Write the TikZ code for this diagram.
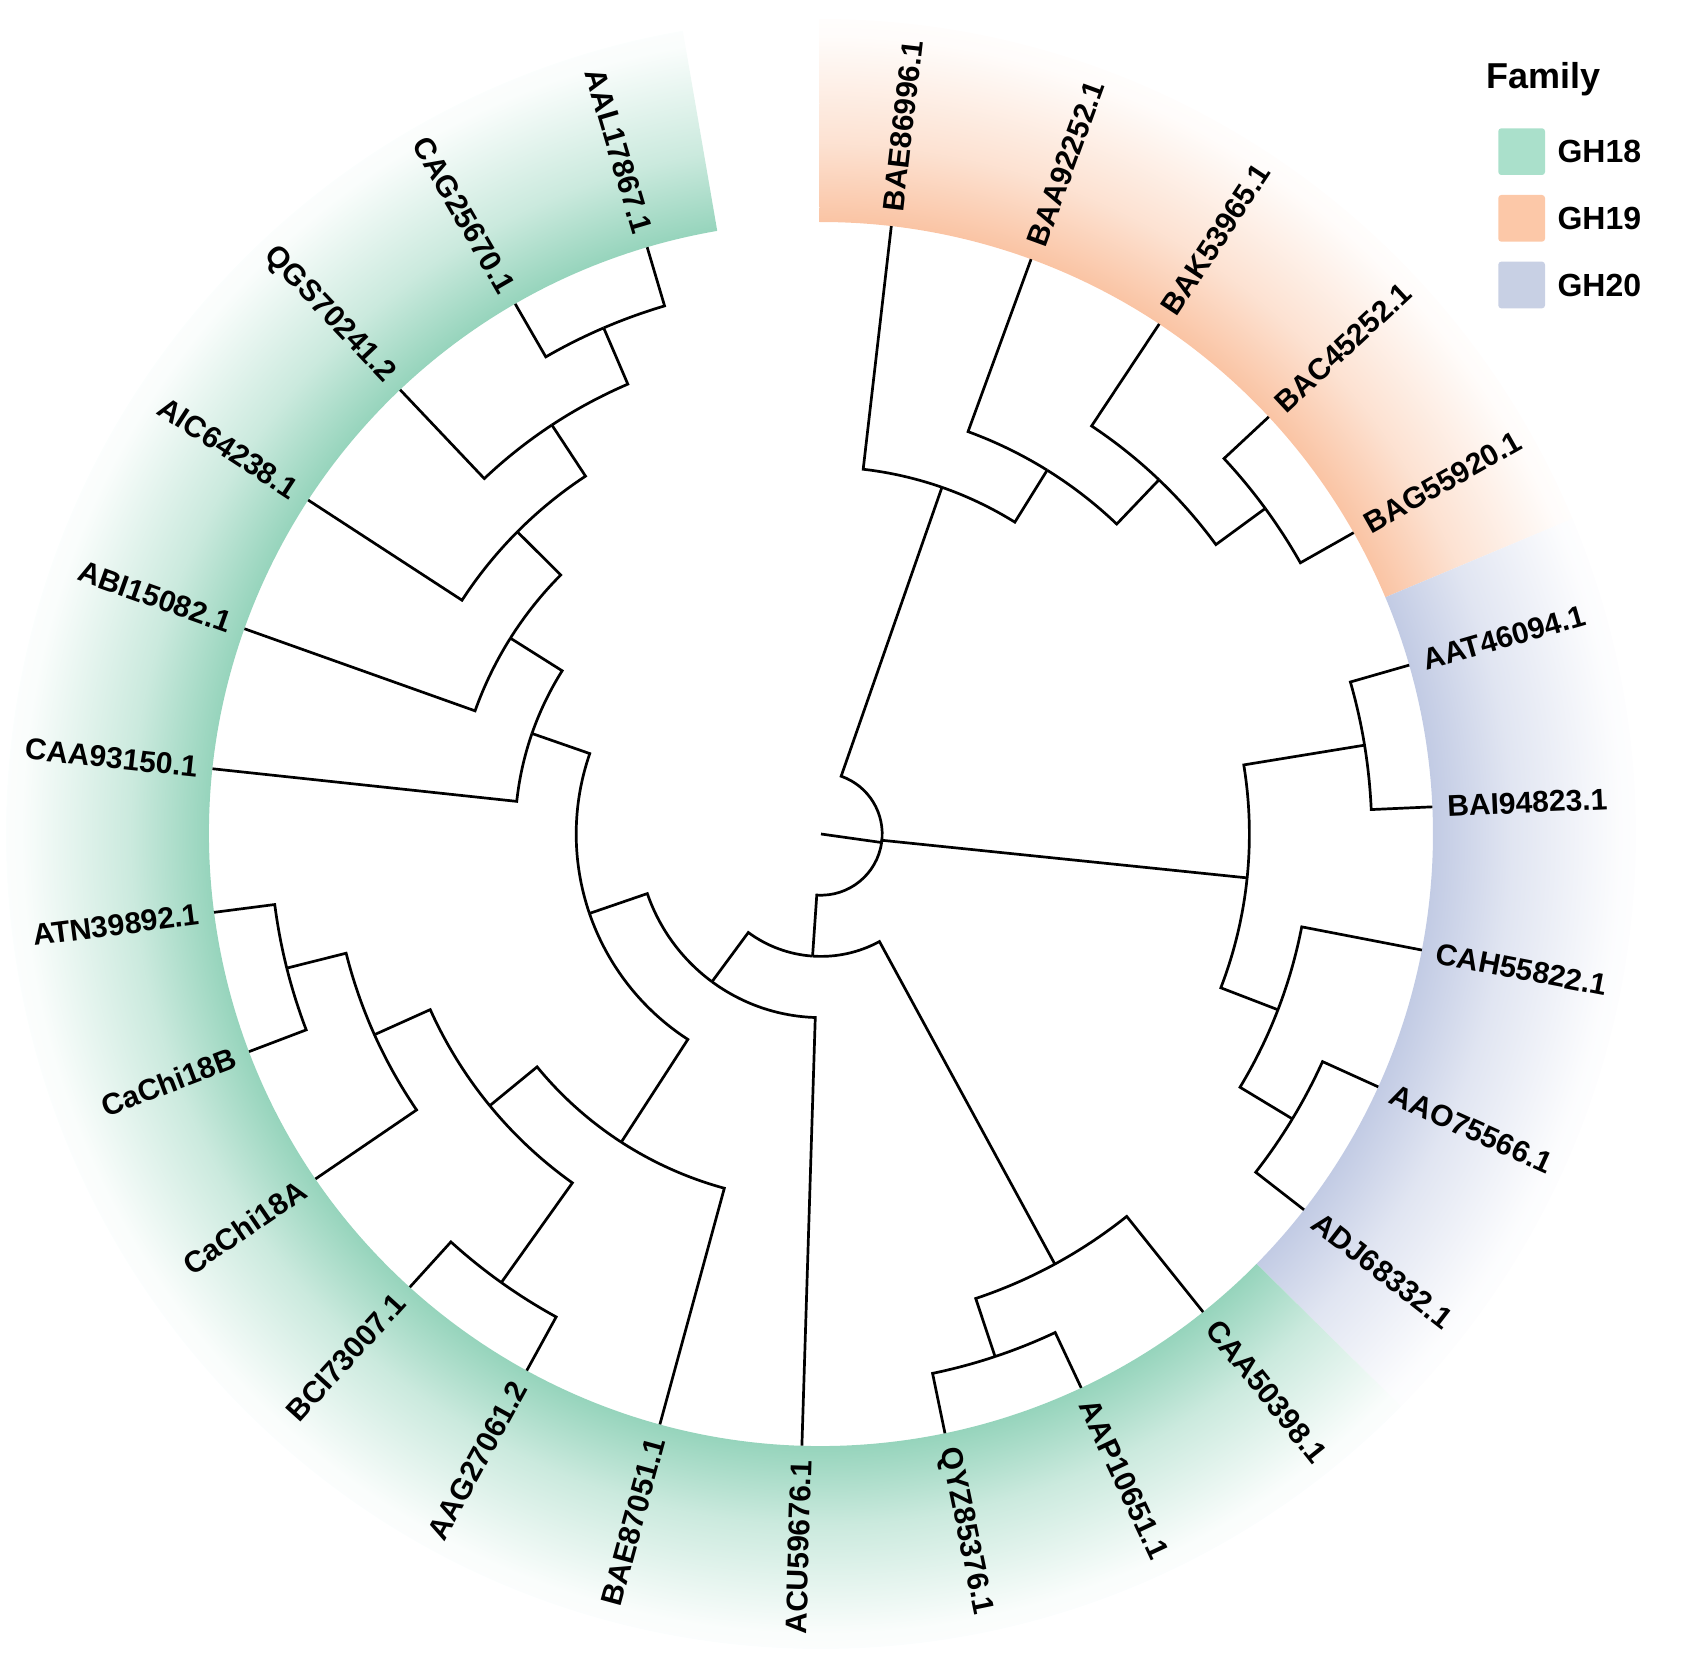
\documentclass[tikz,border=0pt]{standalone}
\usepackage{fontspec}
\setmainfont{Liberation Sans}
\definecolor{cG}{RGB}{150,212,188}
\definecolor{cO}{RGB}{250,196,164}
\definecolor{cB}{RGB}{194,203,228}
\colorlet{cGm}{cG!50!white}
\colorlet{cOm}{cO!50!white}
\colorlet{cBm}{cB!50!white}
\colorlet{cGe}{cG!5!white}
\colorlet{cOe}{cO!5!white}
\colorlet{cBe}{cB!5!white}
\definecolor{lG}{RGB}{170,224,203}
\definecolor{lO}{RGB}{252,200,168}
\definecolor{lB}{RGB}{200,208,228}
% central 50bp square of the shading is fitted to the circle of radius 850: 25bp = 850
\pgfdeclareradialshading{fadeG}{\pgfpoint{0bp}{0bp}}{color(0bp)=(cG); color(18bp)=(cG); color(20.3bp)=(cGm); color(23.5bp)=(cGe); color(25bp)=(white); color(50bp)=(white)}
\pgfdeclareradialshading{fadeO}{\pgfpoint{0bp}{0bp}}{color(0bp)=(cO); color(18bp)=(cO); color(20.3bp)=(cOm); color(23.5bp)=(cOe); color(25bp)=(white); color(50bp)=(white)}
\pgfdeclareradialshading{fadeB}{\pgfpoint{0bp}{0bp}}{color(0bp)=(cB); color(18bp)=(cB); color(20.3bp)=(cBm); color(23.5bp)=(cBe); color(25bp)=(white); color(50bp)=(white)}
\newcommand\edge[5]{\draw[tree] (#1) arc[start angle=#2, end angle=#4, radius=#3] -- (#5);}
\newcommand\band[3]{\begin{scope}
  \clip (#1:612) -- (#1:815) arc[start angle=#1, end angle=#2, radius=815] -- (#2:612) arc[start angle=#2, end angle=#1, radius=612] -- cycle;
  \shade[shading=#3] (0,0) circle (850);
\end{scope}}
\begin{document}
\begin{tikzpicture}[x=1pt,y=1pt,
  tree/.style={line width=2.7pt, line join=miter, black},
  lab/.style={font=\fontsize{30}{36}\selectfont\bfseries, inner sep=0pt, outer sep=0pt},
  legtxt/.style={font=\fontsize{32}{38}\selectfont\bfseries, inner sep=0pt, anchor=west},
  key/.style={minimum size=46.7pt, inner sep=0pt, rounded corners=3pt}]
\useasboundingbox (-821,-820) rectangle (873,834);
% bands
\band{90.138}{22.758}{fadeO}
\band{22.758}{-44.622}{fadeB}
\band{-44.622}{-260.238}{fadeG}
% coordinates
\coordinate (O) at (0,0);
\coordinate (root) at (-8:61.2);
\coordinate (n19a) at (70.766:367.2);
\coordinate (n19b) at (58.133:428.4);
\coordinate (n19c) at (46.341:489.6);
\coordinate (n19d) at (36.234:550.8);
\coordinate (n20a) at (-5.879:428.4);
\coordinate (n20b) at (9.282:550.8);
\coordinate (n20c) at (-21.039:489.6);
\coordinate (n20d) at (-31.146:550.8);
\coordinate (nL2) at (-93.946:122.4);
\coordinate (nXa) at (-61.467:489.6);
\coordinate (nXb) at (-71.574:550.8);
\coordinate (nN3) at (-126.426:183.6);
\coordinate (nN4) at (-161.064:244.8);
\coordinate (nLe) at (-122.949:367.2);
\coordinate (nLd) at (-140.639:428.4);
\coordinate (nLc) at (-125.478:550.8);
\coordinate (nLb) at (-155.799:489.6);
\coordinate (nLa) at (-165.906:550.8);
\coordinate (nUa) at (-199.178:306);
\coordinate (nUb) at (-212.234:367.2);
\coordinate (nUc) at (-224.864:428.4);
\coordinate (nUd) at (-236.655:489.6);
\coordinate (nUe) at (-246.762:550.8);
\coordinate (l0) at (83.4:612);
\coordinate (l1) at (69.924:612);
\coordinate (l2) at (56.448:612);
\coordinate (l3) at (42.972:612);
\coordinate (l4) at (29.496:612);
\coordinate (l5) at (16.02:612);
\coordinate (l6) at (2.544:612);
\coordinate (l7) at (-10.932:612);
\coordinate (l8) at (-24.408:612);
\coordinate (l9) at (-37.884:612);
\coordinate (l10) at (-51.36:612);
\coordinate (l11) at (-64.836:612);
\coordinate (l12) at (-78.312:612);
\coordinate (l13) at (-91.788:612);
\coordinate (l14) at (-105.264:612);
\coordinate (l15) at (-118.74:612);
\coordinate (l16) at (-132.216:612);
\coordinate (l17) at (-145.692:612);
\coordinate (l18) at (-159.168:612);
\coordinate (l19) at (-172.644:612);
\coordinate (l20) at (-186.12:612);
\coordinate (l21) at (-199.596:612);
\coordinate (l22) at (-213.072:612);
\coordinate (l23) at (-226.548:612);
\coordinate (l24) at (-240.024:612);
\coordinate (l25) at (-253.5:612);
% edges
\draw[tree] (O) -- (root);
\edge{root}{-8}{61.2}{70.766}{n19a}
\edge{root}{-8}{61.2}{-5.879}{n20a}
\edge{root}{-8}{61.2}{-93.946}{nL2}
\edge{n19a}{70.766}{367.2}{83.4}{l0}
\edge{n19a}{70.766}{367.2}{58.133}{n19b}
\edge{n19b}{58.133}{428.4}{69.924}{l1}
\edge{n19b}{58.133}{428.4}{46.341}{n19c}
\edge{n19c}{46.341}{489.6}{56.448}{l2}
\edge{n19c}{46.341}{489.6}{36.234}{n19d}
\edge{n19d}{36.234}{550.8}{42.972}{l3}
\edge{n19d}{36.234}{550.8}{29.496}{l4}
\edge{n20a}{-5.879}{428.4}{9.282}{n20b}
\edge{n20a}{-5.879}{428.4}{-21.039}{n20c}
\edge{n20b}{9.282}{550.8}{16.02}{l5}
\edge{n20b}{9.282}{550.8}{2.544}{l6}
\edge{n20c}{-21.039}{489.6}{-10.932}{l7}
\edge{n20c}{-21.039}{489.6}{-31.146}{n20d}
\edge{n20d}{-31.146}{550.8}{-24.408}{l8}
\edge{n20d}{-31.146}{550.8}{-37.884}{l9}
\edge{nL2}{-93.946}{122.4}{-126.426}{nN3}
\edge{nL2}{-93.946}{122.4}{-61.467}{nXa}
\edge{nXa}{-61.467}{489.6}{-51.36}{l10}
\edge{nXa}{-61.467}{489.6}{-71.574}{nXb}
\edge{nXb}{-71.574}{550.8}{-64.836}{l11}
\edge{nXb}{-71.574}{550.8}{-78.312}{l12}
\edge{nN3}{-126.426}{183.6}{-91.788}{l13}
\edge{nN3}{-126.426}{183.6}{-161.064}{nN4}
\edge{nN4}{-161.064}{244.8}{-122.949}{nLe}
\edge{nN4}{-161.064}{244.8}{-199.178}{nUa}
\edge{nLe}{-122.949}{367.2}{-105.264}{l14}
\edge{nLe}{-122.949}{367.2}{-140.639}{nLd}
\edge{nLd}{-140.639}{428.4}{-125.478}{nLc}
\edge{nLd}{-140.639}{428.4}{-155.799}{nLb}
\edge{nLc}{-125.478}{550.8}{-118.74}{l15}
\edge{nLc}{-125.478}{550.8}{-132.216}{l16}
\edge{nLb}{-155.799}{489.6}{-145.692}{l17}
\edge{nLb}{-155.799}{489.6}{-165.906}{nLa}
\edge{nLa}{-165.906}{550.8}{-159.168}{l18}
\edge{nLa}{-165.906}{550.8}{-172.644}{l19}
\edge{nUa}{-199.178}{306}{-186.12}{l20}
\edge{nUa}{-199.178}{306}{-212.234}{nUb}
\edge{nUb}{-212.234}{367.2}{-199.596}{l21}
\edge{nUb}{-212.234}{367.2}{-224.864}{nUc}
\edge{nUc}{-224.864}{428.4}{-213.072}{l22}
\edge{nUc}{-224.864}{428.4}{-236.655}{nUd}
\edge{nUd}{-236.655}{489.6}{-226.548}{l23}
\edge{nUd}{-236.655}{489.6}{-246.762}{nUe}
\edge{nUe}{-246.762}{550.8}{-240.024}{l24}
\edge{nUe}{-246.762}{550.8}{-253.5}{l25}
% labels, right side
\node[lab, anchor=west, rotate=83.4] (t0) at (83.4:627) {BAE86996.1};
\node[lab, anchor=west, rotate=69.924] (t1) at (69.924:627) {BAA92252.1};
\node[lab, anchor=west, rotate=56.448] (t2) at (56.448:627) {BAK53965.1};
\node[lab, anchor=west, rotate=42.972] (t3) at (42.972:627) {BAC45252.1};
\node[lab, anchor=west, rotate=29.496] (t4) at (29.496:627) {BAG55920.1};
\node[lab, anchor=west, rotate=16.02] (t5) at (16.02:627) {AAT46094.1};
\node[lab, anchor=west, rotate=2.544] (t6) at (2.544:627) {BAI94823.1};
\node[lab, anchor=west, rotate=-10.932] (t7) at (-10.932:627) {CAH55822.1};
\node[lab, anchor=west, rotate=-24.408] (t8) at (-24.408:627) {AAO75566.1};
\node[lab, anchor=west, rotate=-37.884] (t9) at (-37.884:627) {ADJ68332.1};
\node[lab, anchor=west, rotate=-51.36] (t10) at (-51.36:627) {CAA50398.1};
\node[lab, anchor=west, rotate=-64.836] (t11) at (-64.836:627) {AAP10651.1};
\node[lab, anchor=west, rotate=-78.312] (t12) at (-78.312:627) {QYZ85376.1};
% labels, left side
\node[lab, anchor=east, rotate=88.212] (t13) at (-91.788:627) {ACU59676.1};
\node[lab, anchor=east, rotate=74.736] (t14) at (-105.264:627) {BAE87051.1};
\node[lab, anchor=east, rotate=61.26] (t15) at (-118.74:627) {AAG27061.2};
\node[lab, anchor=east, rotate=47.784] (t16) at (-132.216:627) {BCI73007.1};
\node[lab, anchor=east, rotate=34.308] (t17) at (-145.692:627) {CaChi18A};
\node[lab, anchor=east, rotate=20.832] (t18) at (-159.168:627) {CaChi18B};
\node[lab, anchor=east, rotate=7.356] (t19) at (-172.644:627) {ATN39892.1};
\node[lab, anchor=east, rotate=-6.12] (t20) at (-186.12:627) {CAA93150.1};
\node[lab, anchor=east, rotate=-19.596] (t21) at (-199.596:627) {ABI15082.1};
\node[lab, anchor=east, rotate=-33.072] (t22) at (-213.072:627) {AIC64238.1};
\node[lab, anchor=east, rotate=-46.548] (t23) at (-226.548:627) {QGS70241.2};
\node[lab, anchor=east, rotate=-60.024] (t24) at (-240.024:627) {CAG25670.1};
\node[lab, anchor=east, rotate=-73.5] (t25) at (-253.5:627) {AAL17867.1};
% legend
\node[anchor=base west, font=\fontsize{36}{42}\selectfont\bfseries, inner sep=0pt] (title) at (665.7,745) {Family};
\node[key, fill=lG] (k18) at (700.65,682.35) {};
\node[key, fill=lO] (k19) at (700.65,615.65) {};
\node[key, fill=lB] (k20) at (700.65,549) {};
\node[legtxt] (g18) at (736.3,682.3) {GH18};
\node[legtxt] (g19) at (736.3,615.7) {GH19};
\node[legtxt] (g20) at (736.3,549) {GH20};
\end{tikzpicture}
\end{document}
